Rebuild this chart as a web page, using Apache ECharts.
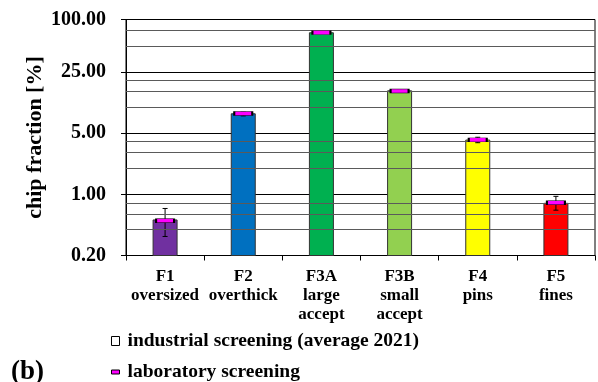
<!DOCTYPE html>
<html>
<head>
<meta charset="utf-8">
<script src="https://cdn.jsdelivr.net/npm/echarts@6/dist/echarts.min.js"></script>
<style>
  html, body { margin: 0; padding: 0; background: #fff; }
  #chart { width: 598px; height: 382px; }
</style>
</head>
<body>
<div id="chart"></div>
<script>
// Screening fractions, log scale (base 5)
const categories = ['F1\noversized', 'F2\noverthick', 'F3A\nlarge\naccept', 'F3B\nsmall\naccept', 'F4\npins', 'F5\nfines'];
const industrial = [0.51, 8.35, 70.5, 15.3, 4.18, 0.79];
const laboratory = [0.50, 8.4, 70.8, 15.2, 4.2, 0.80];
const labLow = [0.33, 7.9, 69.5, 14.9, 3.9, 0.66];
const labHigh = [0.69, 8.7, 72.0, 15.6, 4.5, 0.95];
const minorGridValues = [0.4, 0.6, 0.8, 2, 3, 4, 10, 15, 20, 50, 75];
const axisMin = 0.2;
const axisMax = 100;

const barColors = ['#7030A0', '#0070C0', '#00B050', '#92D050', '#FFFF00', '#FF0000'];
const FONT = '"Liberation Serif", "Times New Roman", serif';

const chart = echarts.init(document.getElementById('chart'));

const barData = industrial.map((v, i) => [i, v]);
const errorData = labLow.map((lo, i) => [i, lo, labHigh[i]]);

chart.setOption({
  animation: false,
  grid: {
    left: 126, right: 3, top: 19.5, bottom: 126.5,
    show: true, borderColor: '#000', borderWidth: 1, backgroundColor: 'transparent'
  },
  legend: [
    {
      left: 111, top: 331, padding: 0,
      itemWidth: 8, itemHeight: 9,
      selectedMode: false,
      textStyle: { fontFamily: FONT, fontWeight: 'bold', fontSize: 19.5, color: '#000', padding: [0, 0, 0, 3] },
      data: [{
        name: 'industrial screening (average 2021)',
        icon: 'rect',
        itemStyle: { color: '#fff', borderColor: '#000', borderWidth: 1 }
      }]
    },
    {
      left: 111, top: 362, padding: 0,
      itemWidth: 8, itemHeight: 4,
      selectedMode: false,
      textStyle: { fontFamily: FONT, fontWeight: 'bold', fontSize: 19.5, color: '#000', padding: [0, 0, 0, 3] },
      data: [{
        name: 'laboratory screening',
        icon: 'rect',
        itemStyle: { color: '#FF00FF', borderColor: '#000', borderWidth: 1 }
      }]
    }
  ],
  graphic: [{
    type: 'text', left: 11, top: 359,
    style: { text: '(b)', fontFamily: FONT, fontWeight: 'bold', fontSize: 27, fill: '#000' }
  }],
  xAxis: {
    type: 'category',
    data: categories,
    boundaryGap: true,
    axisLine: { lineStyle: { color: '#000', width: 1 } },
    axisTick: { show: true, inside: false, length: 5, lineStyle: { color: '#000' } },
    axisLabel: {
      interval: 0, margin: 12, color: '#000',
      fontFamily: FONT, fontWeight: 'bold', fontSize: 17, lineHeight: 19, align: 'center'
    },
    splitLine: { show: false }
  },
  yAxis: {
    type: 'log',
    logBase: 5,
    min: axisMin,
    max: axisMax,
    name: 'chip fraction [%]',
    nameLocation: 'middle',
    nameGap: 80,
    nameMoveOverlap: false,
    nameRotate: 90,
    nameTextStyle: { fontFamily: FONT, fontWeight: 'bold', fontSize: 22, color: '#000' },
    axisLine: { show: true, lineStyle: { color: '#000', width: 1 } },
    axisTick: { show: true, inside: false, length: 5, lineStyle: { color: '#000' } },
    axisLabel: {
      margin: 20, color: '#000',
      fontFamily: FONT, fontWeight: 'bold', fontSize: 20,
      formatter: v => Number(v).toFixed(2)
    },
    splitLine: { show: true, lineStyle: { color: '#000', width: 1 } }
  },
  series: [
    {
      // minor horizontal gridlines
      type: 'line',
      data: [],
      z: 1,
      silent: true,
      markLine: {
        silent: true,
        symbol: ['none', 'none'],
        label: { show: false },
        lineStyle: { color: '#5a5a5a', width: 1, type: 'solid' },
        data: minorGridValues.map(v => ({ yAxis: v }))
      }
    },
    {
      // industrial bars, drawn up from the bottom of the log axis
      name: 'industrial screening (average 2021)',
      type: 'custom',
      z: 3,
      data: barData,
      encode: { x: 0, y: 1 },
      renderItem: function (params, api) {
        const i = api.value(0);
        const top = api.coord([i, api.value(1)]);
        const base = api.coord([i, axisMin]);
        const w = 24;
        return {
          type: 'rect',
          shape: { x: top[0] - w / 2, y: top[1], width: w, height: base[1] - top[1] },
          style: { fill: barColors[params.dataIndex], stroke: '#333', lineWidth: 1 }
        };
      }
    },
    {
      // laboratory spread
      type: 'custom',
      z: 4,
      silent: true,
      data: errorData,
      encode: { x: 0, y: [1, 2] },
      renderItem: function (params, api) {
        const x = api.value(0);
        const lo = api.coord([x, api.value(1)]);
        const hi = api.coord([x, api.value(2)]);
        const cap = 2.5;
        const style = { stroke: '#000', lineWidth: 1 };
        return {
          type: 'group',
          children: [
            { type: 'line', shape: { x1: lo[0], y1: lo[1], x2: hi[0], y2: hi[1] }, style },
            { type: 'line', shape: { x1: lo[0] - cap, y1: lo[1], x2: lo[0] + cap, y2: lo[1] }, style },
            { type: 'line', shape: { x1: hi[0] - cap, y1: hi[1], x2: hi[0] + cap, y2: hi[1] }, style }
          ]
        };
      }
    },
    {
      name: 'laboratory screening',
      type: 'scatter',
      z: 5,
      symbol: 'rect',
      symbolSize: [18, 4],
      data: laboratory,
      itemStyle: { color: '#FF00FF', borderColor: '#000', borderWidth: 1, opacity: 1 }
    }
  ]
});
</script>
</body>
</html>
